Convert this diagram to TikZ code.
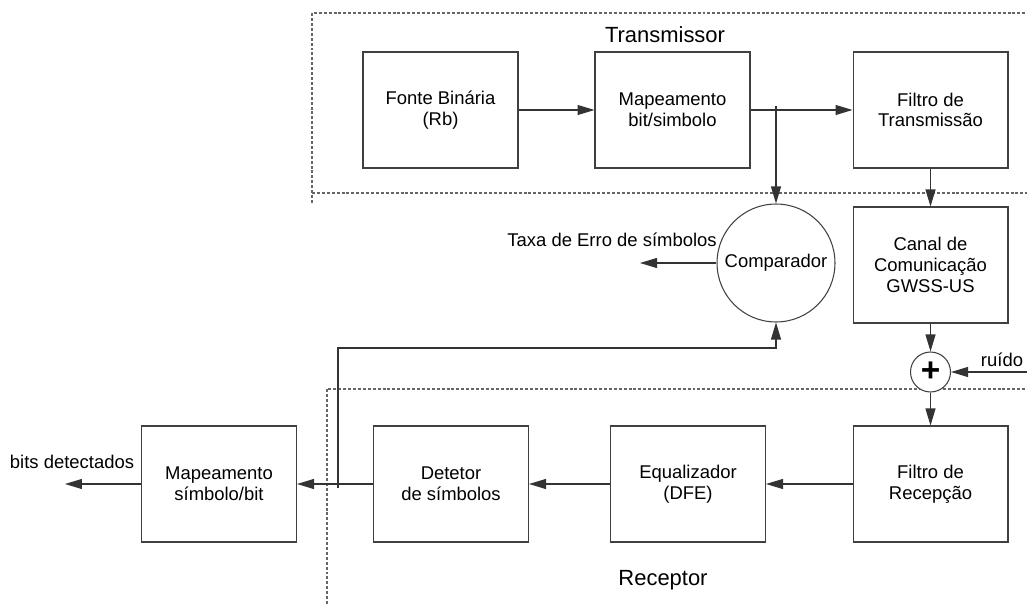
\documentclass[tikz,border=0pt]{standalone}
\usepackage{fontspec}
\setmainfont{Liberation Sans}
\usetikzlibrary{arrows.meta}

\tikzset{
    bloco/.style={draw=black!75, line width=0.6pt, minimum width=3.1cm, minimum height=2.32cm, align=center, inner sep=0pt},
    somador/.style={draw=black!75, line width=0.6pt, circle, minimum size=0.8cm, inner sep=0pt, fill=white},
    seta/.style={-{Triangle[length=3.4mm,width=2mm]}, draw=black!80, line width=0.6pt},
    regiao/.style={draw=black!60, line width=0.6pt, dash pattern=on 1.7pt off 1.1pt},
    titulo/.style={font=\fontsize{12.5}{14}\selectfont},
}

\begin{document}
\begin{tikzpicture}[x=0.02cm, y=-0.02cm, font=\fontsize{10.5}{11.8}\selectfont]

    \useasboundingbox (0,0) rectangle (1027,604);

    % areas do transmissor e do receptor
    \draw[regiao] (312,203) -- (312,13) -- (1027,13);
    \draw[regiao] (312,193) -- (1027,193);
    \draw[regiao] (327,604) -- (327,389) -- (1027,389);
    \node[titulo] (tx) at (665,35) {Transmissor};
    \node[titulo] (rx) at (663,580) {Receptor};

    % blocos
    \node[bloco] (fonte) at (440.5,110) {Fonte Binária\\(Rb)};
    \node[bloco] (mapTx) at (672.5,110) {Mapeamento\\bit/simbolo};
    \node[bloco] (filtroTx) at (930.5,110) {Filtro de\\Transmissão};
    \node[bloco] (canal) at (930.5,265) {Canal de\\Comunicação\\GWSS-US};
    \node[somador] (soma) at (930.5,372) {\fontsize{19}{19}\selectfont\bfseries +};
    \node[bloco] (filtroRx) at (930.5,484) {Filtro de\\Recepção};
    \node[bloco] (equal) at (688,484) {Equalizador\\(DFE)};
    \node[bloco] (detetor) at (451,484) {Detetor\\de símbolos};
    \node[bloco] (mapRx) at (219,484) {Mapeamento\\símbolo/bit};
    \node[circle, draw=black!75, line width=0.6pt, minimum size=2.36cm, inner sep=0pt] (comp) at (776,263) {Comparador};

    % pontos livres
    \coordinate (ramoTx) at (776,106);
    \coordinate (ramoRx) at (338,488);
    \coordinate (canto) at (338,348);
    \coordinate (ruido) at (1027,372);
    \coordinate (taxa) at (640,263);
    \coordinate (saida) at (65,484);

    % ligacoes
    \draw[seta] (fonte) -- (mapTx);
    \draw[seta] (mapTx) -- (filtroTx);
    \draw[seta] (ramoTx) -- (comp);
    \draw[seta] (filtroTx) -- (canal);
    \draw[seta] (canal) -- (soma);
    \draw[seta] (ruido) -- (soma);
    \draw[seta] (soma) -- (filtroRx);
    \draw[seta] (filtroRx) -- (equal);
    \draw[seta] (equal) -- (detetor);
    \draw[seta] (detetor) -- (mapRx);
    \draw[seta] (mapRx) -- (saida);
    \draw[seta] (ramoRx) -- (canto) -| (comp.south);
    \draw[seta] (comp) -- (taxa);

    % rotulos
    \node (lruido) at (1002,360) {ruído};
    \node[anchor=east, inner sep=0pt] (ltaxa) at (717,240) {Taxa de Erro de símbolos};
    \node (lbits) at (72,462) {bits detectados};

\end{tikzpicture}
\end{document}
